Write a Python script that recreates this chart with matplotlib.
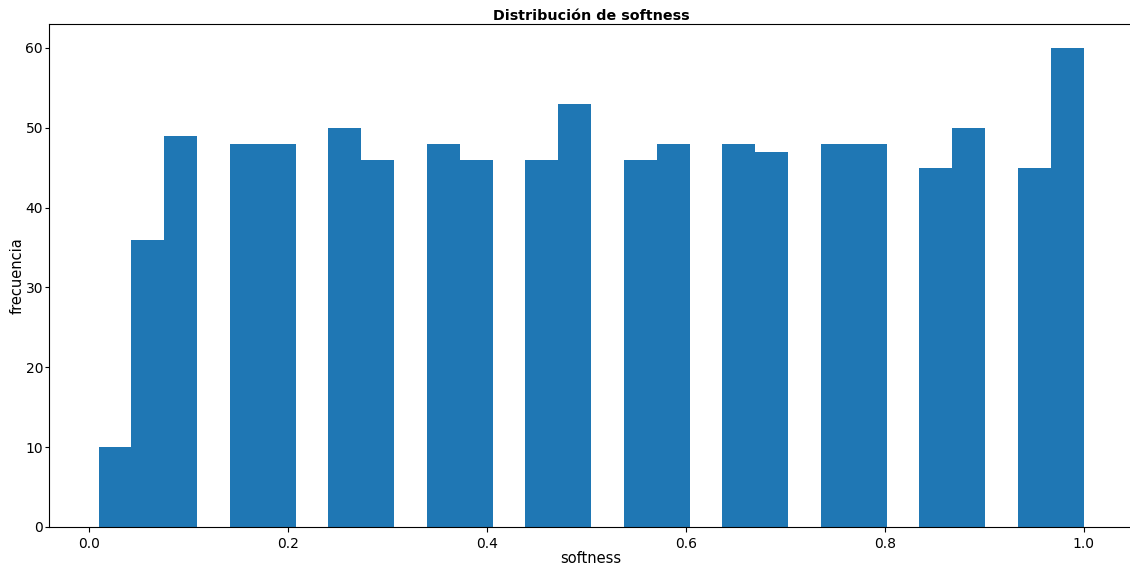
import matplotlib.pyplot as plt
import numpy as np

# softness histogram: 30 bins between min and max of data
softness_min = 0.01
softness_max = 1.0
n_bins = 30
counts = [10, 36, 49, 0, 48, 48, 0, 50, 46, 0,
          48, 46, 0, 46, 53, 0, 46, 48, 0, 48,
          47, 0, 48, 48, 0, 45, 50, 0, 45, 60]

edges = np.linspace(softness_min, softness_max, n_bins + 1)

fig = plt.figure(figsize=(11.3, 5.65), dpi=100)
ax = fig.add_axes([0.0436, 0.0673, 0.959, 0.8902])

ax.hist(edges[:-1], bins=edges, weights=counts, color="#1f77b4")

ax.set_title("Distribución de softness", fontsize=10.3, fontweight="bold", pad=3)
ax.set_xlabel("softness", fontsize=10.5, labelpad=0)
ax.set_ylabel("frecuencia", fontsize=10.5, labelpad=0.5)
ax.tick_params(labelsize=10)
ax.tick_params(axis="y", length=3, pad=1.5)
ax.spines["right"].set_visible(False)

fig.savefig("out.png", dpi=100)
